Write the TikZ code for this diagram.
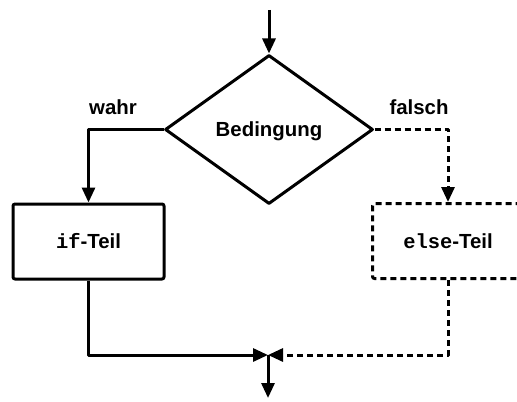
\documentclass[tikz,border=0pt]{standalone}
\usepackage{fontspec}
\setmainfont{Liberation Sans}
\setmonofont{Liberation Mono}
\usetikzlibrary{shapes.geometric,arrows.meta}
\begin{document}
\begin{tikzpicture}[x=0.5pt,y=-0.5pt,
  line width=1.5pt, line join=round,
  font=\fontsize{10.2}{12}\selectfont\bfseries,
  flow/.style={-{Triangle[length=7.5pt,width=6.5pt]}},
  weak/.style={dash pattern=on 3pt off 2pt},
  block/.style={draw, rectangle, rounded corners=1pt, minimum width=75.5pt, minimum height=37.5pt, inner sep=0pt},
  decision/.style={draw, diamond, aspect=1.4, minimum width=104pt, minimum height=74.5pt, inner sep=0pt, text depth=0pt},
  lbl/.style={inner sep=0pt}]
  \useasboundingbox (0,0) rectangle (517,401);
  \clip (0,0) rectangle (517,401);

  % shapes
  \node[decision] (cond) at (269,129.5) {Bedingung};
  \node[block] (ifpart) at (88.5,241.5) {\raisebox{-1pt}{\texttt{if}-Teil}};
  \node[block, weak] (elsepart) at (448,241) {\raisebox{-1pt}{\texttt{else}-Teil}};

  % branch labels
  \node[lbl, anchor=base] (ltrue) at (113,114) {wahr};
  \node[lbl, anchor=base] (lfalse) at (419,114) {falsch};

  % entry, exit and junction
  \coordinate (entry) at (269,10);
  \coordinate (join) at (268,355);
  \coordinate (exit) at (268,398);

  % connectors
  \draw[flow] (entry) -- (cond.north);
  \draw[flow] (cond.west) -| (ifpart.north);
  \draw[flow, weak] (cond.east) -| (elsepart.north);
  \draw[flow] (ifpart.south) |- (join);
  \draw[flow, weak] (elsepart.south) |- (join);
  \draw[flow] (join) -- (exit);
\end{tikzpicture}
\end{document}
